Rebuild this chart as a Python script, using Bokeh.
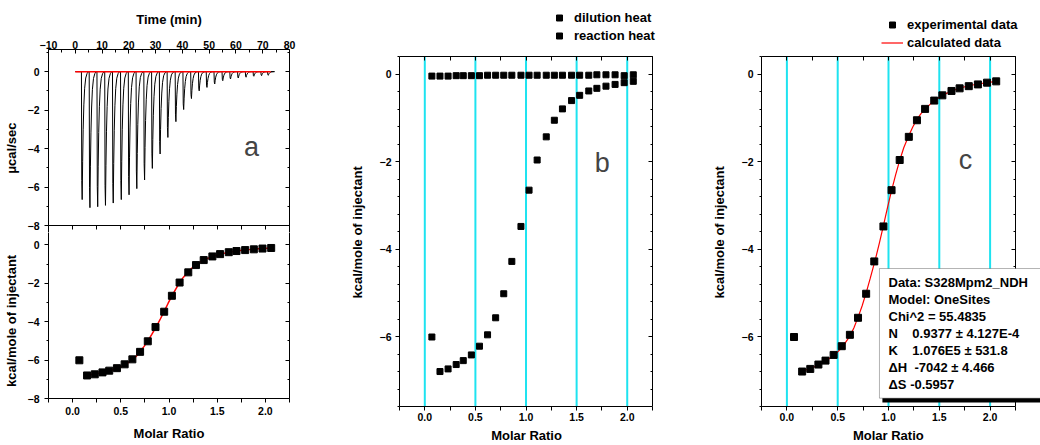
from bokeh.plotting import figure
from bokeh.models import (LinearAxis, Range1d, FixedTicker, CustomJSTickFormatter,
                          PrintfTickFormatter, Legend, LegendItem, Label, BoxAnnotation)
from bokeh.layouts import row, column
from bokeh.embed import file_html
from bokeh.resources import INLINE

FONT = "Liberation Sans"
NB = "\u00a0"

# ---------------- data ----------------
# raw thermogram (panel a, top)
inj_time = [2.3, 5.2, 8.1, 11.0, 13.9, 16.9, 19.8, 22.7, 25.6, 28.5, 31.4, 34.3, 37.3,
            40.2, 43.1, 46.0, 48.9, 51.8, 54.8, 57.7, 60.6, 63.5, 66.4, 69.3, 71.8]
inj_peak = [-6.65, -7.07, -7.02, -6.95, -6.83, -6.65, -6.40, -6.08, -5.63, -5.03, -4.28,
            -3.42, -2.60, -1.97, -1.40, -1.00, -0.82, -0.64, -0.47, -0.38, -0.33, -0.29,
            -0.24, -0.21, -0.19]
peak_dt = [0.0, 0.12, 0.28, 0.45, 0.65, 0.9, 1.2, 1.6, 2.1, 2.6]
peak_frac = [0.0, 0.85, 1.0, 0.7, 0.45, 0.26, 0.13, 0.05, 0.015, 0.0]
baseline_time = [0.0, 73.0]
baseline_power = [0.0, 0.0]

# integrated heats
molar_ratio = [0.07, 0.15, 0.23, 0.31, 0.38, 0.46, 0.54, 0.62, 0.70, 0.78, 0.86, 0.95, 1.03,
               1.11, 1.20, 1.28, 1.36, 1.45, 1.53, 1.62, 1.70, 1.79, 1.88, 1.97, 2.06]
reaction_heat = [-6.01, -6.80, -6.74, -6.64, -6.55, -6.42, -6.22, -5.96, -5.57, -5.02, -4.28,
                 -3.48, -2.65, -1.96, -1.43, -1.05, -0.79, -0.60, -0.48, -0.38, -0.32, -0.27,
                 -0.23, -0.19, -0.16]
dilution_heat = [-0.04, -0.04, -0.04, -0.03, -0.03, -0.03, -0.03, -0.02, -0.02, -0.02, -0.02,
                 -0.02, -0.02, -0.02, -0.02, -0.02, -0.02, -0.02, -0.02, -0.02, -0.01, -0.01,
                 -0.01, -0.03, -0.01]

# fitted curve (calculated data)
fit_ratio = [0.15, 0.23, 0.31, 0.38, 0.46, 0.54, 0.62, 0.66, 0.70, 0.74, 0.78, 0.82, 0.87,
             0.91, 0.95, 0.99, 1.03, 1.07, 1.11, 1.15, 1.20, 1.24, 1.28, 1.32, 1.36, 1.45,
             1.53, 1.62, 1.71, 1.79, 1.88, 1.97, 2.06]
fit_heat = [-6.79, -6.73, -6.65, -6.56, -6.44, -6.26, -5.99, -5.80, -5.56, -5.30, -5.00,
            -4.67, -4.24, -3.86, -3.46, -3.05, -2.66, -2.30, -1.97, -1.68, -1.40, -1.20,
            -1.03, -0.90, -0.79, -0.60, -0.48, -0.38, -0.31, -0.26, -0.22, -0.19, -0.16]

info_lines = ["Data: S328Mpm2_NDH",
              "Model: OneSites",
              "Chi^2 = 55.4835",
              "N" + NB * 4 + "0.9377 \u00b1 4.127E-4",
              "K" + NB * 4 + "1.076E5 \u00b1 531.8",
              "\u0394H" + NB * 2 + "-7042 \u00b1 4.466",
              "\u0394S" + NB + "-0.5957"]

# axis limits / ticks
ky_major = [0, -2, -4, -6, -8]
ky_minor = [1, -1, -3, -5, -7]
time_major = [-10, 0, 10, 20, 30, 40, 50, 60, 70, 80]
time_minor = [-5, 5, 15, 25, 35, 45, 55, 65, 75]
mr_major = [0.0, 0.5, 1.0, 1.5, 2.0]
mr_minor = [-0.25, 0.25, 0.75, 1.25, 1.75, 2.25]
by_major = [0, -2, -4, -6]
by_minor = [0.4, -0.4, -0.8, -1.2, -1.6, -2.4, -2.8, -3.2, -3.6, -4.4, -4.8, -5.2, -5.6,
            -6.4, -6.8, -7.2, -7.6]
MR_LO, MR_HI = -0.25, 2.25
BY_LO, BY_HI = -7.6, 0.4
KY_LO = -8

# build thermogram trace from injections and peak profile
therm_t = [0.0]
therm_p = [0.0]
for t0, pk in zip(inj_time, inj_peak):
    for dt, fr in zip(peak_dt, peak_frac):
        therm_t.append(t0 + dt)
        therm_p.append(pk * fr)
therm_t.append(73.0)
therm_p.append(0.0)

CYAN = "#1EE3F0"


def make_fig(width, height, xr, yr, mbl, mbr, mbt, mbb, outline=True):
    p = figure(width=width, height=height, x_range=Range1d(*xr), y_range=Range1d(*yr),
               output_backend="svg", toolbar_location=None,
               x_axis_location=None, y_axis_location=None,
               min_border_left=mbl, min_border_right=mbr,
               min_border_top=mbt, min_border_bottom=mbb)
    p.outline_line_color = "black" if outline else None
    p.outline_line_width = 1
    p.xgrid.visible = False
    p.ygrid.visible = False
    p.background_fill_color = "white"
    p.border_fill_color = "white"
    return p


def add_axis(p, side, ticks, minor, labels=True, fmt=None, tin=0, tout=4, mtin=0, mtout=2,
             label=None, standoff=4, label_standoff=6, bounds=None, fixed=None,
             x_range_name=None):
    kw = {}
    if x_range_name is not None:
        kw["x_range_name"] = x_range_name
    ax = LinearAxis(ticker=FixedTicker(ticks=ticks, minor_ticks=minor), **kw)
    ax.axis_line_color = "black"
    ax.major_tick_line_color = "black"
    ax.minor_tick_line_color = "black"
    ax.major_tick_in = tin
    ax.major_tick_out = tout
    ax.minor_tick_in = mtin
    ax.minor_tick_out = mtout
    ax.major_label_text_font = FONT
    ax.major_label_text_font_style = "bold"
    ax.major_label_text_font_size = "10.5px"
    ax.major_label_text_color = "black"
    ax.major_label_standoff = standoff
    if bounds is not None:
        ax.bounds = bounds
    if fixed is not None:
        ax.fixed_location = fixed
    if fmt is not None:
        ax.formatter = fmt
    if not labels:
        ax.formatter = CustomJSTickFormatter(code="return ''")
        ax.major_label_text_font_size = "0px"
        ax.major_label_standoff = 0
    if label is not None:
        ax.axis_label = label
        ax.axis_label_text_font = FONT
        ax.axis_label_text_font_style = "bold"
        ax.axis_label_text_font_size = "13px"
        ax.axis_label_text_color = "black"
        ax.axis_label_standoff = label_standoff
    p.add_layout(ax, side)
    return ax


# ---------------- panel a, top ----------------
# its frame runs 7 px below the -8 line so that the "-8" label stays on the page
a_top = make_fig(330, 232, (-10, 80), (-8.36, 1.15), 47, 41, 49, 0, outline=False)
a_top.extra_x_ranges = {"molar": Range1d(MR_LO, MR_HI)}
a_top.line(therm_t, therm_p, color="black", line_width=1)
a_top.line(baseline_time, baseline_power, color="red", line_width=1.5)
add_axis(a_top, "left", ky_major, ky_minor, tout=4, mtout=2, label="\u03bccal/sec" + NB * 4,
         standoff=5, label_standoff=6)
add_axis(a_top, "right", ky_major, ky_minor, labels=False, tin=4, tout=0, mtin=2, mtout=0)
add_axis(a_top, "above", time_major, time_minor, tin=4, tout=0,
         mtin=3, mtout=0, label="Time (min)", standoff=1, label_standoff=11)
# shared line between the two halves, with the molar-ratio ticks of the lower half
add_axis(a_top, "above", mr_major, mr_minor, labels=False, tin=4, tout=0, mtin=4, mtout=0,
         fixed=KY_LO, x_range_name="molar")
a_top.add_layout(Label(x=65.8, y=-3.9, text="a", text_font=FONT, text_font_size="27px",
                       text_align="center", text_baseline="alphabetic"))

# ---------------- panel a, bottom ----------------
a_bot = make_fig(330, 213, (MR_LO, MR_HI), (KY_LO, 0.646), 47, 41, 0, 47, outline=False)
a_bot.line(fit_ratio, fit_heat, color="red", line_width=1.5)
a_bot.scatter(molar_ratio, reaction_heat, marker="square", size=7, color="black")
add_axis(a_bot, "left", ky_major, ky_minor, tout=4, mtout=2,
         label="kcal/mole of injectant" + NB * 3, standoff=5, label_standoff=6)
add_axis(a_bot, "right", ky_major, ky_minor, labels=False, tin=4, tout=0, mtin=2, mtout=0)
add_axis(a_bot, "below", mr_major, mr_minor, fmt=PrintfTickFormatter(format="%.1f"),
         tout=4, mtout=4, label="Molar Ratio", standoff=4, label_standoff=8)

col_a = column(a_top, a_bot, spacing=0)


# ---------------- panels b and c ----------------
# The frames of b and c reach up to the page top and to the figure's right edge so that
# the legends and the info box, which sit outside the boxed area, are not clipped.
def style_legend(leg):
    leg.label_text_font = FONT
    leg.label_text_font_style = "bold"
    leg.label_text_font_size = "13px"
    leg.label_text_color = "black"
    leg.glyph_width = 20
    leg.glyph_height = 15
    leg.label_height = 15
    leg.spacing = 3
    leg.padding = 0
    leg.margin = 0
    leg.label_standoff = 5
    leg.border_line_color = None
    leg.background_fill_alpha = 0


def cyan_lines(p):
    n = len(mr_major)
    p.segment(x0=mr_major, y0=[BY_LO] * n, x1=mr_major, y1=[BY_HI] * n,
              line_color=CYAN, line_width=2, level="underlay")


def box_axes(p, xlabel):
    add_axis(p, "left", by_major, by_minor, tout=4, mtout=2,
             label="kcal/mole of injectant" + NB * 16,
             standoff=4, label_standoff=12, bounds=(BY_LO, BY_HI))
    add_axis(p, "left", by_major, by_minor, labels=False, tin=0, tout=4, mtin=0, mtout=2,
             fixed=MR_HI, bounds=(BY_LO, BY_HI))
    add_axis(p, "below", mr_major, mr_minor, fmt=PrintfTickFormatter(format="%.1f"),
             tout=4, mtout=4, label=xlabel, standoff=2, label_standoff=4,
             bounds=(MR_LO, MR_HI))
    add_axis(p, "above", mr_major, mr_minor, labels=False, tin=4, tout=0, mtin=4, mtout=0,
             bounds=(MR_LO, MR_HI), fixed=BY_HI)
    cyan_lines(p)


Y_TOP = 1.69

# panel b
b = make_fig(370, 445, (MR_LO, 2.724), (BY_LO, Y_TOP), 69, 0, 0, 39, outline=False)
box_axes(b, "Molar Ratio" + NB * 13)
r_dil = b.scatter(molar_ratio, dilution_heat, marker="square", size=6, color="black")
r_rea = b.scatter(molar_ratio, reaction_heat, marker="square", size=6, color="black")
leg_b = Legend(items=[LegendItem(label="dilution heat", renderers=[r_dil]),
                      LegendItem(label="reaction heat", renderers=[r_rea])],
               location=(150, 363))
style_legend(leg_b)
b.add_layout(leg_b)
b.add_layout(Label(x=1.754, y=-2.02, text="b", text_font=FONT, text_font_size="27px",
                   text_align="center", text_baseline="alphabetic"))

# panel c
c = make_fig(340, 445, (MR_LO, 2.496), (BY_LO, Y_TOP), 61, 0, 0, 39, outline=False)
box_axes(c, "Molar Ratio" + NB * 7)
r_fit = c.line(fit_ratio, fit_heat, color="red", line_width=1.2)
r_exp = c.scatter(molar_ratio, reaction_heat, marker="square", size=7, color="black")
leg_c = Legend(items=[LegendItem(label="experimental data", renderers=[r_exp]),
                      LegendItem(label="calculated data", renderers=[r_fit])],
               location=(120, 356))
style_legend(leg_c)
leg_c.glyph_width = 22
leg_c.label_standoff = 4
c.add_layout(leg_c)
c.add_layout(Label(x=1.758, y=-1.95, text="c", text_font=FONT, text_font_size="27px",
                   text_align="center", text_baseline="alphabetic"))

# info box (runs past the right edge of the page, with a drop shadow)
c.add_layout(BoxAnnotation(left=0.94, right=3.0, top=-4.6, bottom=-7.51,
                           fill_color="black", fill_alpha=1, line_color=None))
c.add_layout(BoxAnnotation(left=0.911, right=3.0, top=-4.443, bottom=-7.41,
                           fill_color="white", fill_alpha=1, line_color="black",
                           line_width=1))
c.add_layout(Label(x=1.0, y=-4.594, text="\n".join(info_lines), text_font=FONT,
                   text_font_style="bold", text_font_size="13px", text_line_height=1.13,
                   text_baseline="top", text_align="left", text_color="black"))

layout = row(col_a, b, c, spacing=0)
open("out.html", "w").write(file_html(layout, INLINE))
